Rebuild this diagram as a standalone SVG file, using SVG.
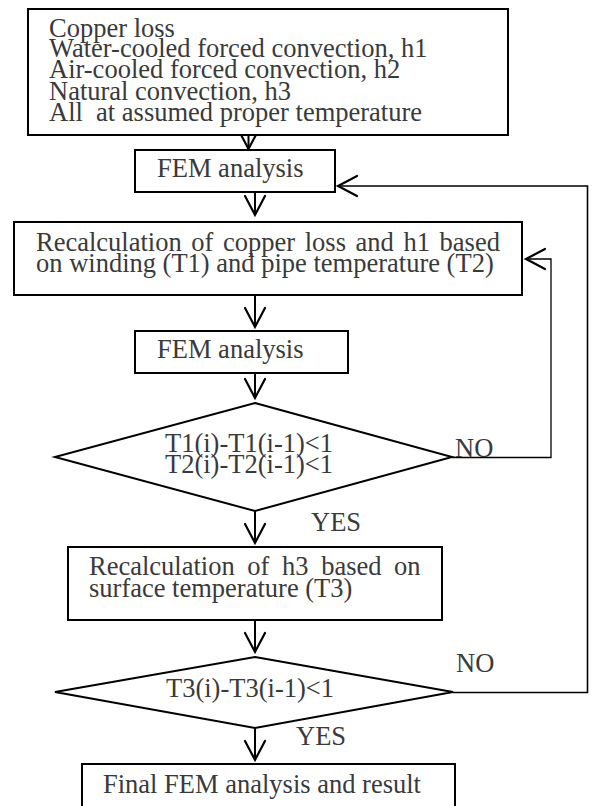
<svg xmlns="http://www.w3.org/2000/svg" width="592" height="806" viewBox="0 0 592 806">
  <style>
    .box { fill: #ffffff; stroke: #000000; stroke-width: 2; }
    .dia { fill: #ffffff; stroke: #000000; stroke-width: 2; }
    .t { font-family: "Liberation Serif", "Times New Roman", serif; font-size: 26.5px; fill: #3a3a3a; }
    .arrow { fill: none; stroke: #000000; stroke-width: 2; }
    .loop { fill: none; stroke: #000000; stroke-width: 1.3; }
  </style>
  <defs>
    <marker id="ah" markerUnits="userSpaceOnUse" markerWidth="40" markerHeight="40" refX="0" refY="0" viewBox="-30 -20 40 40" orient="auto" overflow="visible">
      <path d="M-19,-10 L0,0 L-19,10" fill="none" stroke="#000000" stroke-width="2.2" stroke-linejoin="miter" stroke-linecap="round"/>
    </marker>
  </defs>
  <rect width="592" height="806" fill="#ffffff"/>

  <g id="connectors">
    <line class="arrow" x1="248.5" y1="135" x2="248.5" y2="149" marker-end="url(#ah)"/>
    <line class="arrow" x1="255" y1="192" x2="255" y2="215" marker-end="url(#ah)"/>
    <line class="arrow" x1="255" y1="295" x2="255" y2="327" marker-end="url(#ah)"/>
    <line class="arrow" x1="255" y1="373" x2="255" y2="398" marker-end="url(#ah)"/>
    <line class="arrow" x1="255" y1="511" x2="255" y2="543" marker-end="url(#ah)"/>
    <line class="arrow" x1="255" y1="620" x2="255" y2="652" marker-end="url(#ah)"/>
    <line class="arrow" x1="255" y1="728" x2="255" y2="760" marker-end="url(#ah)"/>
    <path class="loop" d="M452,457.5 H551 V259 H526" marker-end="url(#ah)"/>
    <path class="loop" d="M453,692.5 H587.5 V186 H338" style="stroke-width:1.6" marker-end="url(#ah)"/>
  </g>

  <g id="n-input">
    <rect class="box" x="28" y="9" width="480" height="126"/>
    <text class="t" x="49" y="37">Copper loss</text>
    <text class="t" x="49" y="57">Water-cooled forced convection, h1</text>
    <text class="t" x="49" y="78">Air-cooled forced convection, h2</text>
    <text class="t" x="49" y="100">Natural convection, h3</text>
    <text class="t" x="49" y="121" xml:space="preserve">All  at assumed proper temperature</text>
  </g>

  <g id="n-fem1">
    <rect class="box" x="135" y="150" width="200" height="42"/>
    <text class="t" x="157" y="177">FEM analysis</text>
  </g>

  <g id="n-recalc1">
    <rect class="box" x="14" y="222" width="508" height="73"/>
    <text class="t" x="36" y="251" word-spacing="3">Recalculation of copper loss and h1 based</text>
    <text class="t" x="36" y="272">on winding (T1) and pipe temperature (T2)</text>
  </g>

  <g id="n-fem2">
    <rect class="box" x="135" y="331" width="213" height="42"/>
    <text class="t" x="157" y="358">FEM analysis</text>
  </g>

  <g id="n-dec1">
    <polygon class="dia" points="255,403 452,457 255,511 55,457"/>
    <text class="t" x="165" y="452">T1(i)-T1(i-1)&lt;1</text>
    <text class="t" x="165" y="473">T2(i)-T2(i-1)&lt;1</text>
  </g>
  <text class="t" x="455" y="457">NO</text>
  <text class="t" x="311" y="531">YES</text>

  <g id="n-recalc2">
    <rect class="box" x="68" y="547" width="374" height="73"/>
    <text class="t" x="89" y="575" word-spacing="6">Recalculation of h3 based on</text>
    <text class="t" x="89" y="597">surface temperature (T3)</text>
  </g>

  <g id="n-dec2">
    <polygon class="dia" points="255,657 453,692 255,728 55,692"/>
    <text class="t" x="166" y="697">T3(i)-T3(i-1)&lt;1</text>
  </g>
  <text class="t" x="456" y="672">NO</text>
  <text class="t" x="296" y="745">YES</text>

  <g id="n-final">
    <rect class="box" x="82" y="764" width="373" height="60"/>
    <text class="t" x="103" y="793">Final FEM analysis and result</text>
  </g>
</svg>
